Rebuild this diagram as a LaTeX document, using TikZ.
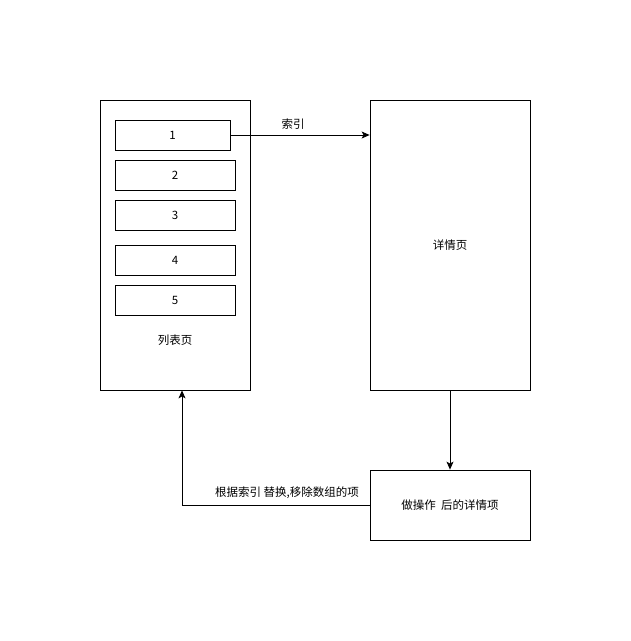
\documentclass[tikz,border=0pt]{standalone}
\usepackage{fontspec}
\setmainfont{Noto Sans CJK SC}
\usetikzlibrary{arrows.meta}
\begin{document}
\begin{tikzpicture}[x=1pt, y=-1pt, font=\fontsize{11.5pt}{13pt}\selectfont,
    page/.style = {draw, thick, minimum width = 150pt, minimum height = 290pt, inner sep = 0pt},
    item/.style = {draw, thick, minimum width = 120pt, minimum height = 30pt, inner sep = 0pt},
    flow/.style = {-{Stealth[length=8pt, width=7pt, inset=2pt]}, thick}]
        \useasboundingbox (0,0) rectangle (631,641);
        \node[page] (list) at (175,245) {};
        \node[page, minimum width = 160pt] (detail) at (450,245) {};
        \node[draw, thick, minimum width = 160pt, minimum height = 70pt] (done) at (450,505) {做操作\ \ 后的详情项};
        \node[item, minimum width = 115pt] (i1) at (172.5,135) {1};
        \node[item] (i2) at (175,175) {2};
        \node[item] (i3) at (175,215) {3};
        \node[item] (i4) at (175,260) {4};
        \node[item] (i5) at (175,300) {5};
        \node (listlabel) at (175,340) {列表页};
        \node (detaillabel) at (450,245) {详情页};
        \draw[flow] (i1.east) -- (detail.west |- i1.east);
        \node (indexlabel) at (293,124) {索引};
        \draw[flow] (detail.south) -- (done.north);
        \coordinate (turn) at (182,505);
        \draw[flow] (done.west) -- (turn) -- (turn |- list.south);
        \node (backlabel) at (287,493) {根据索引 替换,移除数组的项};
    \end{tikzpicture}
\end{document}
